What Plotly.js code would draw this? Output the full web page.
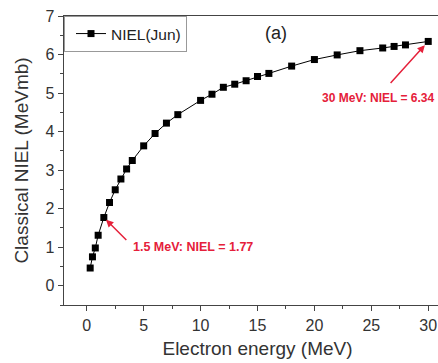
<!DOCTYPE html>
<html>
<head>
<meta charset="utf-8">
<script src="https://cdn.plot.ly/plotly-3.0.1.min.js"></script>
<style>
html, body { margin: 0; padding: 0; overflow: hidden; background: #fff; width: 438px; height: 363px; }
#chart { width: 460px; height: 363px; }
</style>
</head>
<body>
<div id="chart"></div>
<script>
// Data
const energyMeV = [0.3, 0.5, 0.75, 1, 1.5, 2, 2.5, 3, 3.5, 4, 5, 6, 7, 8, 10, 11, 12, 13, 14, 15, 16, 18, 20, 22, 24, 26, 27, 28, 30];
const nielMeVmb = [0.46, 0.75, 0.98, 1.31, 1.77, 2.16, 2.49, 2.77, 3.03, 3.25, 3.63, 3.95, 4.22, 4.44, 4.81, 4.97, 5.15, 5.23, 5.32, 5.43, 5.51, 5.70, 5.87, 5.99, 6.10, 6.17, 6.21, 6.25, 6.34];
const seriesName = 'NIEL(Jun)';
const xTitle = 'Electron energy (MeV)';
const yTitle = 'Classical NIEL (MeVmb)';
const panelLabel = '(a)';
const note1 = { x: 1.5, y: 1.77, text: '1.5 MeV: NIEL = 1.77' };
const note2 = { x: 30, y: 6.34, text: '30 MeV: NIEL = 6.34' };

const font = 'Arial, "Liberation Sans", Helvetica, sans-serif';
const red = '#e5203a';

const trace = {
  x: energyMeV,
  y: nielMeVmb,
  name: seriesName,
  type: 'scatter',
  mode: 'lines+markers',
  line: { color: '#000', width: 1 },
  marker: { symbol: 'square', size: 7, color: '#000' },
  showlegend: true
};

const axisCommon = {
  showgrid: false,
  zeroline: false,
  showline: true,
  linecolor: '#444',
  linewidth: 1.4,
  mirror: true,
  ticks: 'outside',
  ticklen: 5,
  tickwidth: 1,
  tickcolor: '#444',
  tickfont: { family: font, size: 16, color: '#333' }
};

const layout = {
  width: 460,
  height: 363,
  margin: { l: 64, r: 9, t: 16, b: 58 },
  paper_bgcolor: '#fff',
  plot_bgcolor: '#fff',
  font: { family: font, color: '#333' },
  xaxis: Object.assign({}, axisCommon, {
    range: [-2, 32],
    dtick: 5,
    tick0: 0,
    minor: { dtick: 2.5, ticks: 'outside', ticklen: 3, tickcolor: '#444' },
    title: { text: xTitle, font: { family: font, size: 19, color: '#333' }, standoff: 9 }
  }),
  yaxis: Object.assign({}, axisCommon, {
    range: [-0.5, 7],
    dtick: 1,
    tick0: 0,
    minor: { dtick: 0.5, ticks: 'outside', ticklen: 3, tickcolor: '#444' },
    title: { text: yTitle, font: { family: font, size: 19, color: '#333' }, standoff: 12 }
  }),
  showlegend: true,
  legend: {
    x: 0, y: 1, xanchor: 'left', yanchor: 'top',
    bgcolor: '#fff',
    bordercolor: '#999',
    borderwidth: 1,
    indentation: 6,
    font: { family: font, size: 15.5, color: '#222' }
  },
  annotations: [
    { xref: 'x', yref: 'y', x: 16.6, y: 6.55, text: panelLabel, showarrow: false,
      font: { family: font, size: 18, color: '#222' } },
    { xref: 'x', yref: 'y', x: note1.x, y: note1.y, text: '', showarrow: true,
      ax: 24, ay: 24, arrowcolor: red, arrowhead: 2, arrowsize: 1, arrowwidth: 1.5, standoff: 3 },
    { xref: 'x', yref: 'y', x: 3.9, y: 1.01, text: note1.text, showarrow: false, xanchor: 'left',
      font: { family: font, size: 12.5, color: red, weight: 'bold' } },
    { xref: 'x', yref: 'y', x: note2.x, y: note2.y, text: '', showarrow: true,
      ax: -39, ay: 43, arrowcolor: red, arrowhead: 2, arrowsize: 1, arrowwidth: 1.5, standoff: 5 },
    { xref: 'x', yref: 'y', x: 20.5, y: 4.88, text: note2.text, showarrow: false, xanchor: 'left',
      font: { family: font, size: 12, color: red, weight: 'bold' } }
  ]
};

Plotly.newPlot('chart', [trace], layout, { displayModeBar: false, staticPlot: true });
</script>
</body>
</html>
